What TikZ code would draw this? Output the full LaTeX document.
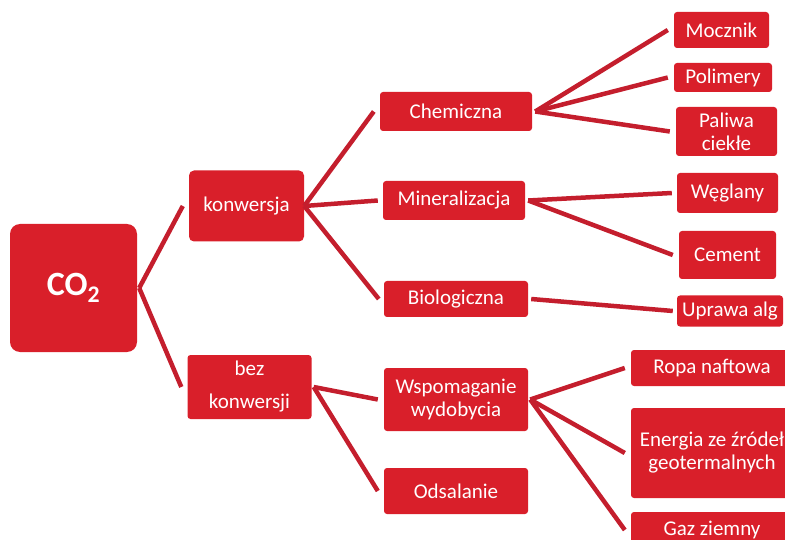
\documentclass[tikz,border=0pt]{standalone}
\usepackage{fontspec}
\setmainfont{Carlito}
\usepackage{tikz}
\usetikzlibrary{positioning}

\definecolor{boxred}{RGB}{217,31,42}
\definecolor{linkred}{RGB}{196,30,45}

\begin{document}
\begin{tikzpicture}[
  x=1pt, y=-1pt,
  box/.style={fill=boxred, rounded corners=3pt, text=white, align=center, inner sep=0pt,
    font=\fontsize{21}{23}\selectfont, minimum width=#1},
  link/.style={draw=linkred, line width=4.5pt},
]
\useasboundingbox (0,0) rectangle (785,540);
\clip (0,0) rectangle (785,540);

% Nodes
\node[box=127pt, minimum height=128pt, rounded corners=10pt, font=\fontsize{34}{36}\selectfont\bfseries] (co2) at (73.5,288) {CO\textsubscript{2}};
\node[box=115pt, minimum height=71pt, rounded corners=5pt] (konw) at (246.5,206) {konwersja};
\node[box=124pt, minimum height=64pt] (bez) at (249.5,387) {bez\\[10pt]konwersji};

\node[box=152pt, minimum height=39pt] (chem) at (456,111.5) {Chemiczna};
\node[box=142pt, minimum height=39pt] (miner) at (454,200.5) {Mineralizacja};
\node[box=144pt, minimum height=36pt] (bio) at (456,299) {Biologiczna};
\node[box=144pt, minimum height=63pt] (wsp) at (456,399.5) {Wspomaganie\\wydobycia};
\node[box=144pt, minimum height=46pt] (odsal) at (456,491) {Odsalanie};

\node[box=95pt, minimum height=36pt] (moczn) at (721.5,30) {Mocznik};
\node[box=98pt, minimum height=29pt] (polim) at (723,77.5) {Polimery};
\node[box=101pt, minimum height=49pt] (paliwa) at (726.5,131.5) {Paliwa\\ciekłe};
\node[box=101pt, minimum height=40pt] (wegl) at (727.5,193) {Węglany};
\node[box=97pt, minimum height=48pt] (cement) at (727.5,255) {Cement};
\node[box=106pt, minimum height=31pt] (algi) at (730,311) {Uprawa alg};

\node[box=162pt, minimum height=36pt] (ropa) at (712,368) {Ropa naftowa};
\node[box=162pt, minimum height=90pt] (energia) at (712,453) {Energia ze źródeł\\geotermalnych};
\node[box=162pt, minimum height=36pt] (gaz) at (712,530) {Gaz ziemny};

% Links
\draw[link] ([xshift=2pt]co2.east) -- ([xshift=-6pt]konw.west);
\draw[link] ([xshift=2pt]co2.east) -- ([xshift=-6pt]bez.west);

\draw[link] (konw.east) -- ([xshift=-6pt]chem.west);
\draw[link] (konw.east) -- ([xshift=-5pt]miner.west);
\draw[link] (konw.east) -- ([xshift=-5pt]bio.west);

\draw[link] ([xshift=2pt]bez.east) -- ([xshift=-6pt]wsp.west);
\draw[link] ([xshift=2pt]bez.east) -- ([xshift=-6pt]odsal.west);

\draw[link] ([xshift=3pt]chem.east) -- ([xshift=-6pt]moczn.west);
\draw[link] ([xshift=3pt]chem.east) -- ([xshift=-6pt]polim.west);
\draw[link] ([xshift=3pt]chem.east) -- ([xshift=-6pt]paliwa.west);

\draw[link] ([xshift=3pt]miner.east) -- ([xshift=-5pt]wegl.west);
\draw[link] ([xshift=3pt]miner.east) -- ([xshift=-6pt]cement.west);

\draw[link] ([xshift=3pt]bio.east) -- ([xshift=-4pt]algi.west);

\draw[link] ([xshift=2pt]wsp.east) -- ([xshift=-6pt]ropa.west);
\draw[link] ([xshift=2pt]wsp.east) -- ([xshift=-6pt]energia.west);
\draw[link] ([xshift=2pt]wsp.east) -- ([xshift=-6pt]gaz.west);

\end{tikzpicture}
\end{document}
